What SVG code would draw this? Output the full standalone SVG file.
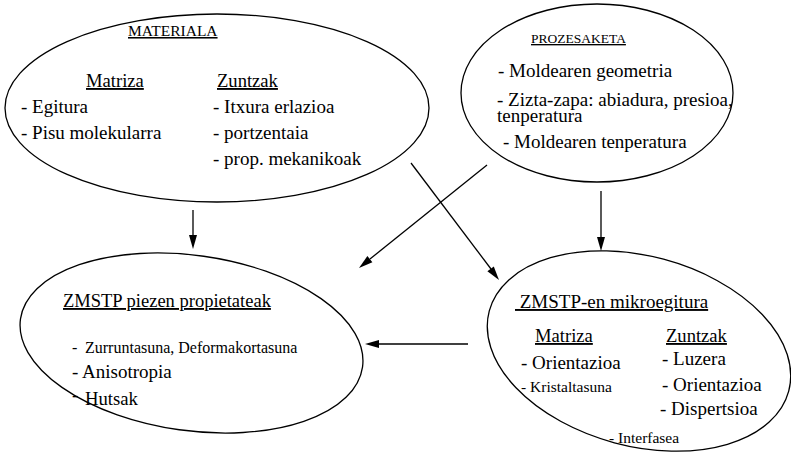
<svg xmlns="http://www.w3.org/2000/svg" width="791" height="453" viewBox="0 0 791 453">
<rect width="791" height="453" fill="#fff"/>
<g id="materiala">
<ellipse fill="none" stroke="#000" stroke-width="1.3" cx="217" cy="108" rx="212" ry="94"/>
<text font-family="Liberation Serif, Times New Roman, serif" text-decoration="underline" x="128" y="36" font-size="15.5">MATERIALA</text>
<text font-family="Liberation Serif, Times New Roman, serif" text-decoration="underline" x="86" y="87" font-size="18.6">Matriza</text>
<text font-family="Liberation Serif, Times New Roman, serif" text-decoration="underline" x="217" y="87" font-size="18.6">Zuntzak</text>
<text font-family="Liberation Serif, Times New Roman, serif" x="21" y="113" font-size="19">- Egitura</text>
<text font-family="Liberation Serif, Times New Roman, serif" x="21" y="139" font-size="19">- Pisu molekularra</text>
<text font-family="Liberation Serif, Times New Roman, serif" x="213" y="113" font-size="19">- Itxura erlazioa</text>
<text font-family="Liberation Serif, Times New Roman, serif" x="213" y="139" font-size="19">- portzentaia</text>
<text font-family="Liberation Serif, Times New Roman, serif" x="213" y="165" font-size="19">- prop. mekanikoak</text>
</g>
<g id="prozesaketa">
<ellipse fill="none" stroke="#000" stroke-width="1.3" cx="597" cy="93" rx="136" ry="89"/>
<text font-family="Liberation Serif, Times New Roman, serif" text-decoration="underline" x="531" y="43" font-size="13.5">PROZESAKETA</text>
<text font-family="Liberation Serif, Times New Roman, serif" x="498" y="77" font-size="19">- Moldearen geometria</text>
<text font-family="Liberation Serif, Times New Roman, serif" x="497" y="106" font-size="19">- Zizta-zapa: abiadura, presioa,</text>
<text font-family="Liberation Serif, Times New Roman, serif" x="497" y="122" font-size="19">tenperatura</text>
<text font-family="Liberation Serif, Times New Roman, serif" x="503" y="148" font-size="19">- Moldearen tenperatura</text>
</g>
<g id="propietateak">
<ellipse fill="none" stroke="#000" stroke-width="1.3" cx="191.5" cy="343" rx="172.7" ry="87.6" transform="rotate(8 191.5 343)"/>
<text font-family="Liberation Serif, Times New Roman, serif" text-decoration="underline" x="63" y="307" font-size="18.5">ZMSTP piezen propietateak</text>
<text font-family="Liberation Serif, Times New Roman, serif" x="72" y="353" font-size="16">-</text>
<text font-family="Liberation Serif, Times New Roman, serif" x="85" y="353" font-size="16">Zurruntasuna, Deformakortasuna</text>
<text font-family="Liberation Serif, Times New Roman, serif" x="72" y="378" font-size="19">- Anisotropia</text>
<text font-family="Liberation Serif, Times New Roman, serif" x="72" y="401" font-size="19">-</text>
<text font-family="Liberation Serif, Times New Roman, serif" x="85" y="405" font-size="18.7">Hutsak</text>
</g>
<g id="mikroegitura">
<ellipse fill="none" stroke="#000" stroke-width="1.3" cx="639" cy="351" rx="155" ry="95" transform="rotate(15 639 351)"/>
<text font-family="Liberation Serif, Times New Roman, serif" text-decoration="underline" x="515" y="308" font-size="19" xml:space="preserve"> ZMSTP-en mikroegitura</text>
<text font-family="Liberation Serif, Times New Roman, serif" text-decoration="underline" x="535" y="342" font-size="18.6">Matriza</text>
<text font-family="Liberation Serif, Times New Roman, serif" text-decoration="underline" x="666" y="342" font-size="18.6">Zuntzak</text>
<text font-family="Liberation Serif, Times New Roman, serif" x="521" y="369" font-size="19">- Orientazioa</text>
<text font-family="Liberation Serif, Times New Roman, serif" x="521" y="392" font-size="15.5">- Kristaltasuna</text>
<text font-family="Liberation Serif, Times New Roman, serif" x="662" y="365" font-size="19">- Luzera</text>
<text font-family="Liberation Serif, Times New Roman, serif" x="662" y="391" font-size="19">- Orientazioa</text>
<text font-family="Liberation Serif, Times New Roman, serif" x="660" y="415" font-size="19">- Dispertsioa</text>
<text font-family="Liberation Serif, Times New Roman, serif" x="609" y="443" font-size="15.5">- Interfasea</text>
</g>
<g id="connectors" stroke="#000" stroke-width="1.3" fill="#000">
<line x1="193" y1="210" x2="193" y2="237"/>
<polygon stroke="none" points="189,235 197,235 193,249"/>
<line x1="487" y1="165" x2="370" y2="259"/>
<polygon stroke="none" points="372.4,262.3 367.4,256.1 359,268"/>
<line x1="411" y1="163" x2="491" y2="269"/>
<polygon stroke="none" points="487.4,271.2 493.8,266.4 499,280"/>
<line x1="601" y1="191" x2="601" y2="239"/>
<polygon stroke="none" points="597,237 605,237 601,251"/>
<line x1="468" y1="344" x2="377" y2="344"/>
<polygon stroke="none" points="379,340 379,348 365,344"/>
</g>
</svg>
